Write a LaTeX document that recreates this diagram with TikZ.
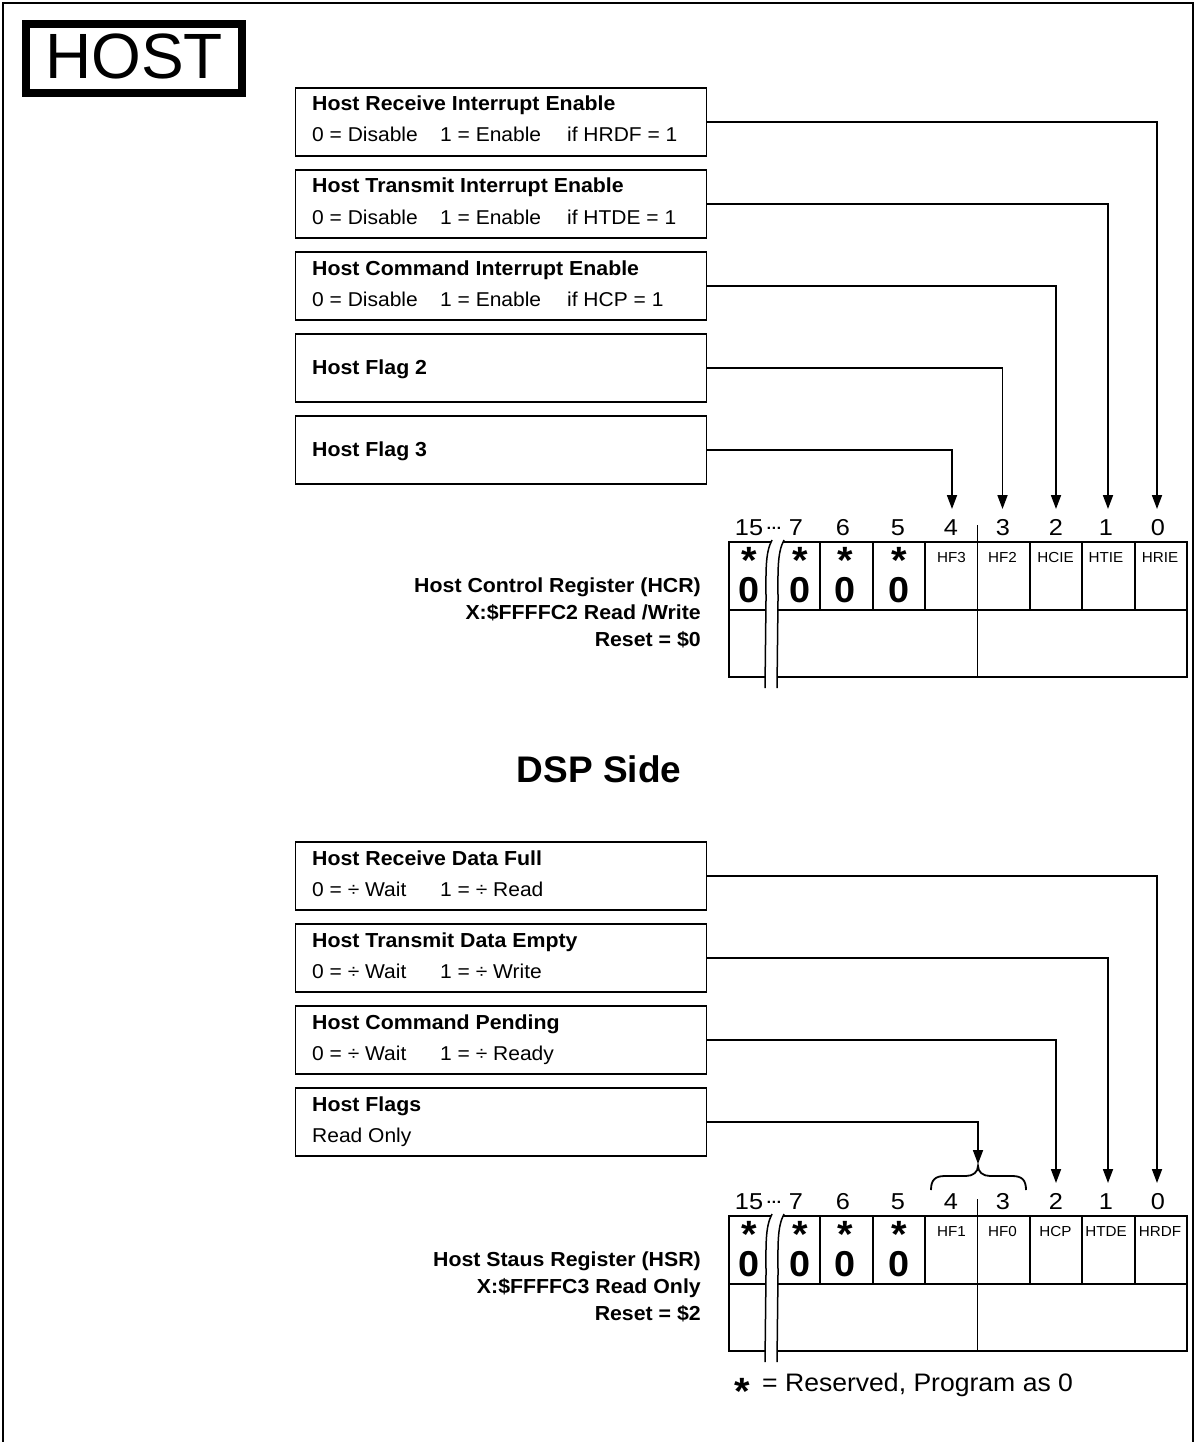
\documentclass[tikz,border=0pt]{standalone}
\usepackage{fontspec}
\setmainfont{Liberation Sans}[FakeStretch=1.05]
\newfontfamily\plainfont{Liberation Sans}
\newfontfamily\numfont{Liberation Sans}[FakeStretch=1.1]
\usetikzlibrary{arrows.meta}
\tikzset{
  frameline/.style={line width=2.5pt},
  fbox/.style={draw, line width=1.8pt, minimum width=411pt, minimum height=68pt, inner sep=0pt, anchor=north west},
  ttl/.style={font=\bfseries\fontsize{20.3}{22}\selectfont, anchor=base west, inner sep=0pt},
  txt/.style={font=\fontsize{20}{22}\selectfont, anchor=base west, inner sep=0pt},
  conn/.style={line width=1.8pt, -{Triangle[width=10pt,length=14pt]}},
  reg/.style={line width=1.8pt},
  brk/.style={line width=1.5pt},
  bitnum/.style={font=\numfont\fontsize{23}{23}\selectfont, anchor=base, inner sep=0pt},
  flag/.style={font=\fontsize{14.5}{15}\selectfont, anchor=base, inner sep=0pt},
  zero/.style={font=\bfseries\fontsize{36}{36}\selectfont, anchor=base, inner sep=0pt},
  star/.style={font=\bfseries\fontsize{38}{38}\selectfont, anchor=base, inner sep=0pt},
  regtxt/.style={font=\bfseries\fontsize{20.3}{22}\selectfont, anchor=base east, inner sep=0pt},
}
\begin{document}
\begin{tikzpicture}[x=1pt,y=-1pt]
\useasboundingbox (0,0) rectangle (1196,1442);
% outer frame
\draw[frameline] (3,1460) -- (3,3) -- (1193,3) -- (1193,1460);
% HOST
\draw[line width=8pt] (26,24) rectangle (242,93);
\node[font=\plainfont\fontsize{64}{64}\selectfont, inner sep=0pt] (host) at (134,56.5) {HOST};

% ---------- top boxes ----------
\node[fbox] (b1) at (294.5,87) {};
\node[ttl] (b1t) at (312,111) {Host Receive Interrupt Enable};
\node[txt] (b1s) at (312,142) {\makebox[128pt][l]{0 = Disable}\makebox[127pt][l]{1 = Enable}if HRDF = 1};
\node[fbox] (b2) at (294.5,169) {};
\node[ttl] (b2t) at (312,193) {Host Transmit Interrupt Enable};
\node[txt] (b2s) at (312,224) {\makebox[128pt][l]{0 = Disable}\makebox[127pt][l]{1 = Enable}if HTDE = 1};
\node[fbox] (b3) at (294.5,251) {};
\node[ttl] (b3t) at (312,275) {Host Command Interrupt Enable};
\node[txt] (b3s) at (312,306) {\makebox[128pt][l]{0 = Disable}\makebox[127pt][l]{1 = Enable}if HCP = 1};
\node[fbox] (b4) at (294.5,333) {};
\node[ttl] (b4t) at (312,374) {Host Flag 2};
\node[fbox] (b5) at (294.5,415) {};
\node[ttl] (b5t) at (312,456) {Host Flag 3};

% ---------- top register ----------
\draw[reg] (729,542) rectangle (1187,677);
\draw[reg] (729,610) -- (1187,610);
\foreach \x in {820.2,872.6,925,1029.8,1082.2,1134.6} \draw[reg] (\x,542) -- (\x,610);
\draw[reg] (977.4,525) -- (977.4,677);
\fill[white] (772,540) .. controls (765,553) and (766,572) .. (766,600) -- (765,688) -- (777,688) -- (778,600) .. controls (778,572) and (777,553) .. (784,540) -- cycle;
\draw[brk] (772,540) .. controls (765,553) and (766,572) .. (766,600) -- (765,688);
\draw[brk] (784,540) .. controls (777,553) and (778,572) .. (778,600) -- (777,688);

\node[bitnum] (tn15) at (749,535) {15};
\node[font=\bfseries\fontsize{15}{15}\selectfont, anchor=base, inner sep=0pt] (tdots) at (774,529) {…};
\node[bitnum] (tn7) at (796,535) {7};
\node[bitnum] (tn6) at (843,535) {6};
\node[bitnum] (tn5) at (898,535) {5};
\node[bitnum] (tn4) at (951,535) {4};
\node[bitnum] (tn3) at (1003,535) {3};
\node[bitnum] (tn2) at (1056,535) {2};
\node[bitnum] (tn1) at (1106,535) {1};
\node[bitnum] (tn0) at (1158,535) {0};

\foreach \x/\n in {749/a,800/b,845/c,899/d} {
  \node[star] (ts\n) at (\x,573) {*};
  \node[zero] (tz\n) at (\x,602) {0};
}
\node[flag] (tf4) at (951.5,562) {HF3};
\node[flag] (tf3) at (1002.5,562) {HF2};
\node[flag] (tf2) at (1055.5,562) {HCIE};
\node[flag] (tf1) at (1106,562) {HTIE};
\node[flag] (tf0) at (1160,562) {HRIE};

\node[regtxt] (hcr1) at (701,592) {Host Control Register (HCR)};
\node[regtxt] (hcr2) at (701,619) {X:\$FFFFC2 Read /Write};
\node[regtxt] (hcr3) at (701,646) {Reset = \$0};

\coordinate (ta0) at (1157,509);
\coordinate (ta1) at (1108,509);
\coordinate (ta2) at (1056,509);
\coordinate (ta3) at (1002.5,509);
\coordinate (ta4) at (952,509);
\draw[conn] (b1.east) -| (ta0);
\draw[conn] (b2.east) -| (ta1);
\draw[conn] (b3.east) -| (ta2);
\draw[conn] (b4.east) -| (ta3);
\draw[conn] (b5.east) -| (ta4);

% ---------- DSP Side ----------
\node[font=\plainfont\bfseries\fontsize{37}{37}\selectfont, inner sep=0pt, anchor=base] (dsp) at (599,782) {DSP Side};

% ---------- bottom boxes ----------
\node[fbox] (b6) at (294.5,841) {};
\node[ttl] (b6t) at (312,865) {Host Receive Data Full};
\node[txt] (b6s) at (312,896) {\makebox[128pt][l]{0 = ÷ Wait}1 = ÷ Read};
\node[fbox] (b7) at (294.5,923) {};
\node[ttl] (b7t) at (312,947) {Host Transmit Data Empty};
\node[txt] (b7s) at (312,978) {\makebox[128pt][l]{0 = ÷ Wait}1 = ÷ Write};
\node[fbox] (b8) at (294.5,1005) {};
\node[ttl] (b8t) at (312,1029) {Host Command Pending};
\node[txt] (b8s) at (312,1060) {\makebox[128pt][l]{0 = ÷ Wait}1 = ÷ Ready};
\node[fbox] (b9) at (294.5,1087) {};
\node[ttl] (b9t) at (312,1111) {Host Flags};
\node[txt] (b9s) at (312,1142) {Read Only};

% ---------- bottom register ----------
\begin{scope}[shift={(0,674)}]
\draw[reg] (729,542) rectangle (1187,677);
\draw[reg] (729,610) -- (1187,610);
\foreach \x in {820.2,872.6,925,1029.8,1082.2,1134.6} \draw[reg] (\x,542) -- (\x,610);
\draw[reg] (977.4,525) -- (977.4,677);
\fill[white] (772,540) .. controls (765,553) and (766,572) .. (766,600) -- (765,688) -- (777,688) -- (778,600) .. controls (778,572) and (777,553) .. (784,540) -- cycle;
\draw[brk] (772,540) .. controls (765,553) and (766,572) .. (766,600) -- (765,688);
\draw[brk] (784,540) .. controls (777,553) and (778,572) .. (778,600) -- (777,688);

\node[bitnum] (bn15) at (749,535) {15};
\node[font=\bfseries\fontsize{15}{15}\selectfont, anchor=base, inner sep=0pt] (bdots) at (774,529) {…};
\node[bitnum] (bn7) at (796,535) {7};
\node[bitnum] (bn6) at (843,535) {6};
\node[bitnum] (bn5) at (898,535) {5};
\node[bitnum] (bn4) at (951,535) {4};
\node[bitnum] (bn3) at (1003,535) {3};
\node[bitnum] (bn2) at (1056,535) {2};
\node[bitnum] (bn1) at (1106,535) {1};
\node[bitnum] (bn0) at (1158,535) {0};

\foreach \x/\n in {749/a,800/b,845/c,899/d} {
  \node[star] (bs\n) at (\x,573) {*};
  \node[zero] (bz\n) at (\x,602) {0};
}
\node[flag] (bf4) at (951.5,562) {HF1};
\node[flag] (bf3) at (1002.5,562) {HF0};
\node[flag] (bf2) at (1055.5,562) {HCP};
\node[flag] (bf1) at (1106,562) {HTDE};
\node[flag] (bf0) at (1160,562) {HRDF};

\node[regtxt] (hsr1) at (701,592) {Host Staus Register (HSR)};
\node[regtxt] (hsr2) at (701,619) {X:\$FFFFC3 Read Only};
\node[regtxt] (hsr3) at (701,646) {Reset = \$2};

\coordinate (ba0) at (1157,509);
\coordinate (ba1) at (1108,509);
\coordinate (ba2) at (1056,509);
\coordinate (bhf) at (978,490);
% brace
\draw[reg] (931,516) .. controls (931,506) and (935,502) .. (945,502) -- (966,502) .. controls (973,502) and (978,498) .. (978,492) .. controls (978,498) and (983,502) .. (990,502) -- (1012,502) .. controls (1022,502) and (1026,506) .. (1026,516);
\end{scope}

\draw[conn] (b6.east) -| (ba0);
\draw[conn] (b7.east) -| (ba1);
\draw[conn] (b8.east) -| (ba2);
\draw[conn] (b9.east) -| (bhf);

% legend
\node[star] (lstar) at (742,1404) {*};
\node[font=\fontsize{25.3}{26}\selectfont, anchor=base west, inner sep=0pt] (legend) at (762,1391) {= Reserved, Program as 0};
\end{tikzpicture}
\end{document}
